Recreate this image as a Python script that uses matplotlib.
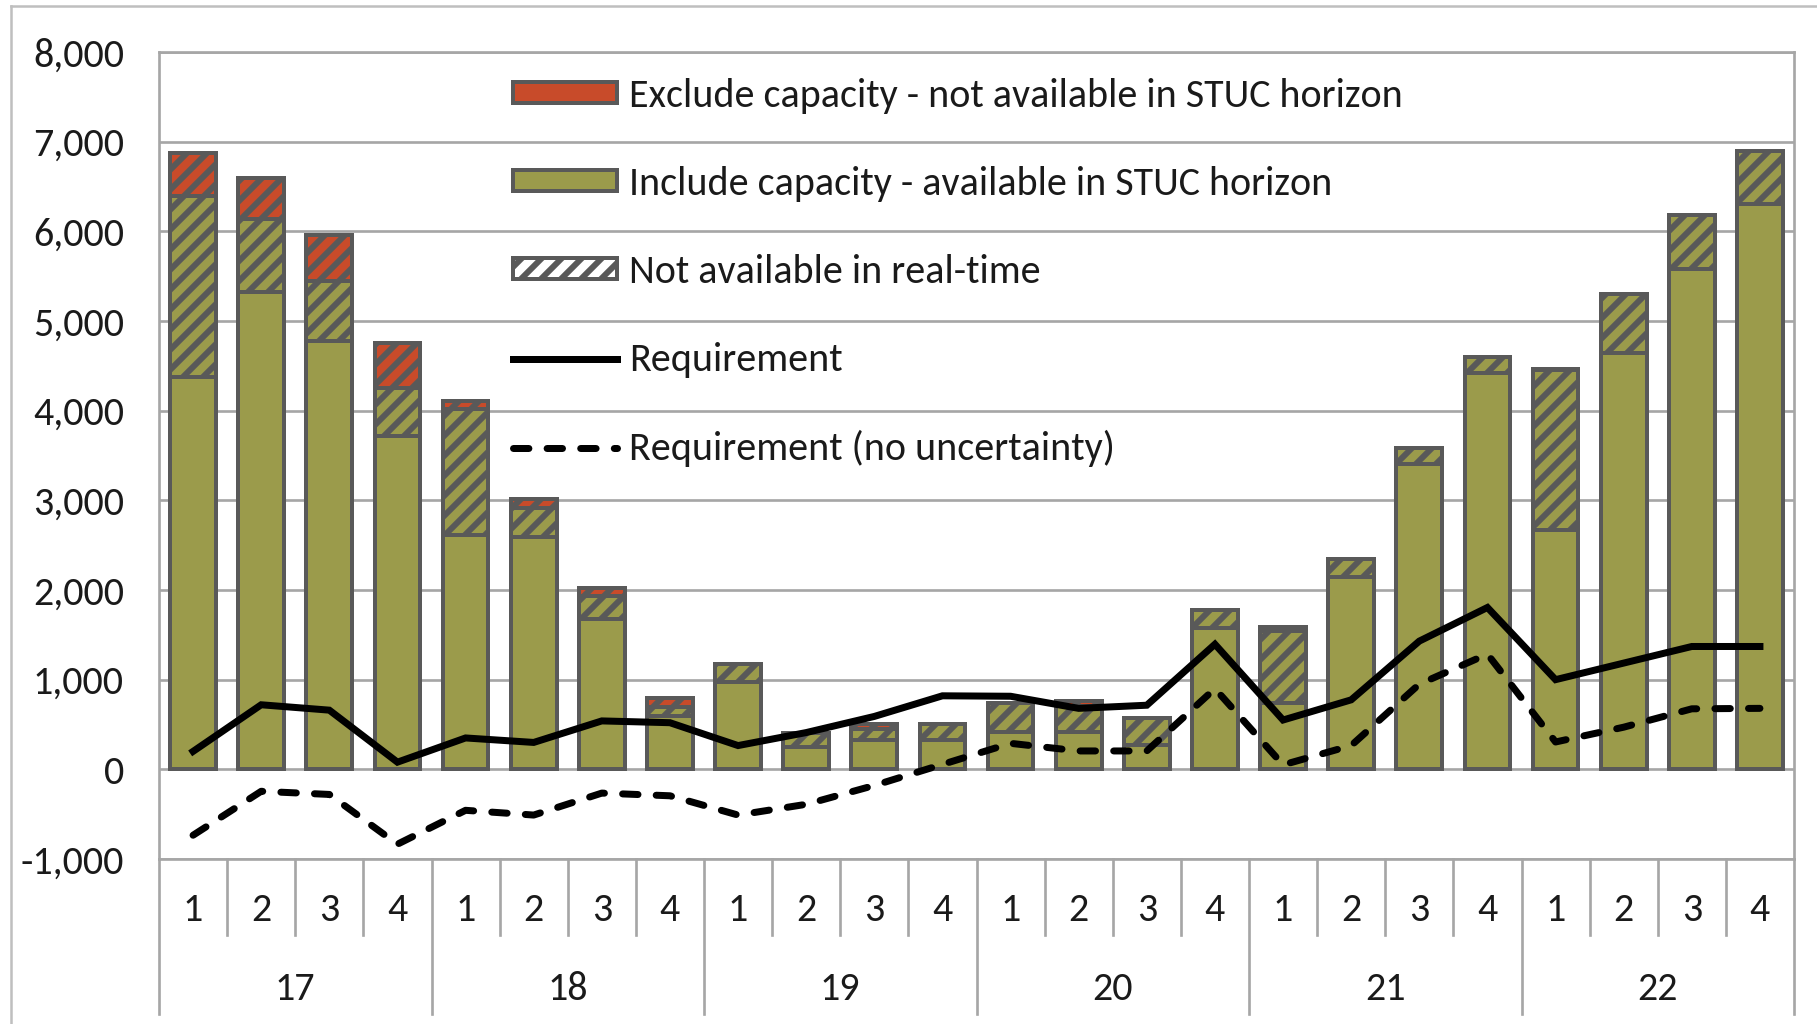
import matplotlib
matplotlib.use("Agg")
import matplotlib.pyplot as plt
from matplotlib import font_manager
from matplotlib.patches import Patch
from matplotlib.lines import Line2D

years = ['17', '18', '19', '20', '21', '22']
quarters = ['1', '2', '3', '4']

# capacity by quarter, 17Q1 ... 22Q4
include_rt = [4370, 5320, 4780, 3720, 2610, 2590, 1680, 600,
              970, 250, 330, 330, 420, 420, 270, 1580,
              740, 2150, 3410, 4420, 2670, 4640, 5580, 6310]
include_not_rt = [2020, 820, 670, 530, 1410, 330, 250, 100,
                  210, 160, 120, 180, 320, 290, 300, 200,
                  800, 200, 170, 180, 1780, 660, 600, 590]
exclude_not_rt = [480, 460, 510, 500, 90, 100, 90, 90,
                  0, 0, 60, 0, 0, 50, 0, 0,
                  50, 0, 0, 0, 20, 0, 0, 0]
requirement = [200, 720, 660, 80, 350, 300, 540, 520,
               265, 410, 590, 820, 815, 680, 715, 1395,
               550, 775, 1430, 1805, 1000, 1185, 1370, 1370]
requirement_no_unc = [-735, -245, -280, -835, -457, -510, -265, -295,
                      -510, -390, -180, 55, 290, 205, 205, 900,
                      50, 265, 950, 1285, 305, 470, 675, 680]

GREEN = '#9B9B4B'
RED = '#C84B2A'
EDGE = '#595959'
GRID = '#A6A6A6'
TXT = '#1A1A1A'

names = {f.name for f in font_manager.fontManager.ttflist}
for fam, fs in [('Carlito', 24), ('Liberation Sans Narrow', 21), ('Open Sans', 19)]:
    if fam in names:
        break
plt.rcParams['font.family'] = [fam, 'DejaVu Sans']
plt.rcParams['hatch.linewidth'] = 3.6

DPI = 120
fig = plt.figure(figsize=(1817 / DPI, 1024 / DPI), dpi=DPI)
ax = fig.add_axes([159 / 1817, 1 - 859 / 1024, 1635 / 1817, 807 / 1024])

x = list(range(24))
w = 0.67
bottom2 = [a + b for a, b in zip(include_rt, include_not_rt)]
ax.bar(x, include_rt, w, color=GREEN, edgecolor=EDGE, lw=2.4, zorder=2)
ax.bar(x, include_not_rt, w, bottom=include_rt, color=GREEN, edgecolor=EDGE,
       lw=2.4, hatch='//', zorder=2)
ax.bar(x, exclude_not_rt, w, bottom=bottom2, color=RED, edgecolor=EDGE,
       lw=2.4, hatch='//', zorder=2)

dash = (0, (2.2, 2.6))
ax.plot(x, requirement, color='black', lw=4.2, solid_joinstyle='miter', zorder=4)
ax.plot(x, requirement_no_unc, color='black', lw=4.2, ls=dash,
        dash_capstyle='round', zorder=4)

ax.set_xlim(-0.5, 23.5)
ax.set_ylim(-1000, 8000)
ax.set_yticks(range(-1000, 8001, 1000))
ax.set_yticklabels([f'{v:,}' for v in range(-1000, 8001, 1000)], fontsize=fs, color=TXT)
ax.tick_params(axis='y', length=0, pad=21)
ax.set_xticks([])
ax.yaxis.grid(True, color=GRID, lw=1.6)
ax.set_axisbelow(True)
for s in ax.spines.values():
    s.set_color(GRID)
    s.set_linewidth(1.6)

# two-level category axis
trans = ax.get_xaxis_transform()
for i in x:
    ax.text(i, -0.063, quarters[i % 4], transform=trans, ha='center', va='center',
            fontsize=fs, color=TXT)
for i in range(25):
    yb = -0.192 if i % 4 == 0 else -0.094
    ax.plot([i - 0.5, i - 0.5], [0, yb], transform=trans, color=GRID, lw=1.6,
            clip_on=False)
for j, yr in enumerate(years):
    ax.text(4 * j + 1.5, -0.161, yr, transform=trans, ha='center', va='center',
            fontsize=fs, color=TXT)

handles = [
    Patch(facecolor=RED, edgecolor=EDGE, lw=2.4),
    Patch(facecolor=GREEN, edgecolor=EDGE, lw=2.4),
    Patch(facecolor='white', edgecolor=EDGE, lw=2.4, hatch='//'),
    Line2D([], [], color='black', lw=4.2),
    Line2D([], [], color='black', lw=4.2, ls=dash, dash_capstyle='round'),
]
labels = ['Exclude capacity - not available in STUC horizon',
          'Include capacity - available in STUC horizon',
          'Not available in real-time',
          'Requirement',
          'Requirement (no uncertainty)']
leg = ax.legend(handles, labels, loc='upper left', bbox_to_anchor=(0.2165, 0.968),
                frameon=False, fontsize=fs, handlelength=2.6, handleheight=0.42,
                handletextpad=0.3, labelspacing=1.3, borderpad=0, borderaxespad=0)
for t in leg.get_texts():
    t.set_color(TXT)

# outer chart border
fig.add_artist(Line2D([11 / 1817, 11 / 1817], [0, 1 - 6 / 1024], color='#BFBFBF', lw=1.5))
fig.add_artist(Line2D([11 / 1817, 1], [1 - 6 / 1024, 1 - 6 / 1024], color='#BFBFBF', lw=1.5))

fig.savefig('out.png', dpi=DPI)
